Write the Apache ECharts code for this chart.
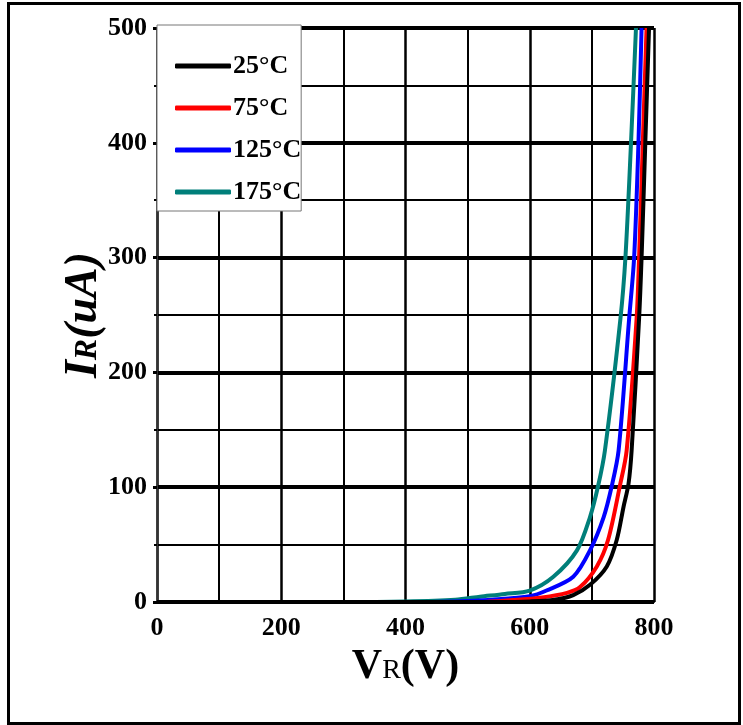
<!DOCTYPE html>
<html><head><meta charset="utf-8">
<script src="https://cdn.jsdelivr.net/npm/echarts@6/dist/echarts.min.js"></script>
<style>html,body{margin:0;padding:0;background:#fff}#c{width:743px;height:725px}</style>
</head><body><div id="c"></div>
<script>
const seriesNames = ['25°C', '75°C', '125°C', '175°C'];
const seriesColors = ['#000000', '#ff0000', '#0000ff', '#007f7a'];
const xTicks = [0, 200, 400, 600, 800];
const yTicks = [0, 100, 200, 300, 400, 500];

const v25 = [0, 200, 400, 550, 600, 640, 670, 697, 724, 740, 751, 759, 764, 776, 780, 786, 792];
const i25 = [0, 0, 0, 0, 0.5, 2, 6, 15, 31, 54, 83, 103, 132, 247, 300, 400, 500];
const v75 = [0, 400, 520, 573, 620, 660, 681, 708, 726, 745, 756, 772, 776, 782, 788];
const i75 = [0, 0, 0, 1.7, 4, 8, 13, 31, 54, 101, 132, 247, 300, 400, 500];
const v125 = [0, 400, 480, 540, 600, 627, 670, 697, 719, 732, 743, 760, 768, 775, 780];
const i125 = [0, 0, 0.5, 2, 5, 10, 22, 45, 74, 101, 132, 247, 300, 400, 500];
const v175 = [0, 300, 400, 480, 520, 560, 600, 638, 676, 697, 710, 721, 746, 754, 763, 771];
const i175 = [0, 0, 0.5, 2, 4.6, 7, 10, 22, 45, 74, 101, 132, 247, 300, 400, 500];

const vs = [v25, v75, v125, v175];
const is = [i25, i75, i125, i175];

const font = 'Liberation Serif';
const chart = echarts.init(document.getElementById('c'), null, {renderer: 'canvas'});

const series = seriesNames.map((n, k) => ({
  name: n, type: 'line', smooth: 0.3, showSymbol: false, symbol: 'none',
  data: vs[k].map((v, j) => [v, is[k][j]]),
  lineStyle: {color: seriesColors[k], width: 4},
  itemStyle: {color: seriesColors[k]},
  z: 10 - k
}));

chart.setOption({
  animation: false,
  backgroundColor: '#fff',
  textStyle: {fontFamily: font},
  grid: {left: 157, right: 89, top: 28, bottom: 123},
  legend: {
    orient: 'vertical', left: 157, top: 25,
    backgroundColor: '#fff', borderColor: '#777', borderWidth: 1,
    padding: [28, 0, 6, 18], itemGap: 16,
    icon: 'roundRect', itemWidth: 56, itemHeight: 5,
    textStyle: {fontFamily: font, fontWeight: 'bold', fontSize: 26, color: '#000', padding: [0,0,0,-3]},
    data: seriesNames, z: 20
  },
  xAxis: {
    type: 'value', min: 0, max: 800, interval: 200,
    axisLine: {show: true, lineStyle: {color: '#000', width: 2}},
    axisTick: {show: false},
    axisLabel: {fontFamily: font, fontWeight: 'bold', fontSize: 26, color: '#000', margin: 13,
      formatter: v => xTicks.includes(v) ? String(v) : ''},
    splitLine: {show: true, lineStyle: {color: '#000', width: 2.5}},
    minorTick: {show: false, splitNumber: 2},
    minorSplitLine: {show: true, lineStyle: {color: '#000', width: 2}},
    name: '{v|V}{r|R}{v|(V)}', nameLocation: 'middle', nameGap: 35,
    nameTextStyle: {rich: {
      v: {fontFamily: font, fontSize: 42, fontWeight: 'bold', color: '#000', verticalAlign: 'bottom'},
      r: {fontFamily: font, fontSize: 28, color: '#000', verticalAlign: 'bottom', padding: [0,0,3,0]}
    }}
  },
  yAxis: {
    type: 'value', min: 0, max: 500, interval: 100,
    axisLine: {show: true, lineStyle: {color: '#333', width: 1}},
    axisTick: {show: true, length: 4, lineStyle: {color: '#000', width: 3}},
    axisLabel: {fontFamily: font, fontWeight: 'bold', fontSize: 26, color: '#000', margin: 10,
      formatter: v => yTicks.includes(v) ? String(v) : ''},
    splitLine: {show: true, lineStyle: {color: '#000', width: 4}},
    minorTick: {show: true, splitNumber: 2, length: 3, lineStyle: {color: '#000', width: 2}},
    minorSplitLine: {show: true, lineStyle: {color: '#000', width: 2}},
    name: '{i|I}{r|R}{i|(uA)}', nameLocation: 'middle', nameGap: 50, nameRotate: 90,
    nameMoveOverlap: false,
    nameTextStyle: {rich: {
      i: {fontFamily: font, fontSize: 46, fontWeight: 'bold', fontStyle: 'italic', color: '#000', verticalAlign: 'bottom'},
      r: {fontFamily: font, fontSize: 32, fontWeight: 'bold', fontStyle: 'italic', color: '#000', verticalAlign: 'bottom', padding: [0,0,3,0]}
    }}
  },
  graphic: [{
    type: 'rect', left: 6, top: 1, z: 100,
    shape: {width: 731, height: 720},
    style: {fill: 'none', stroke: '#000', lineWidth: 3}
  }],
  series: series
});
</script></body></html>
